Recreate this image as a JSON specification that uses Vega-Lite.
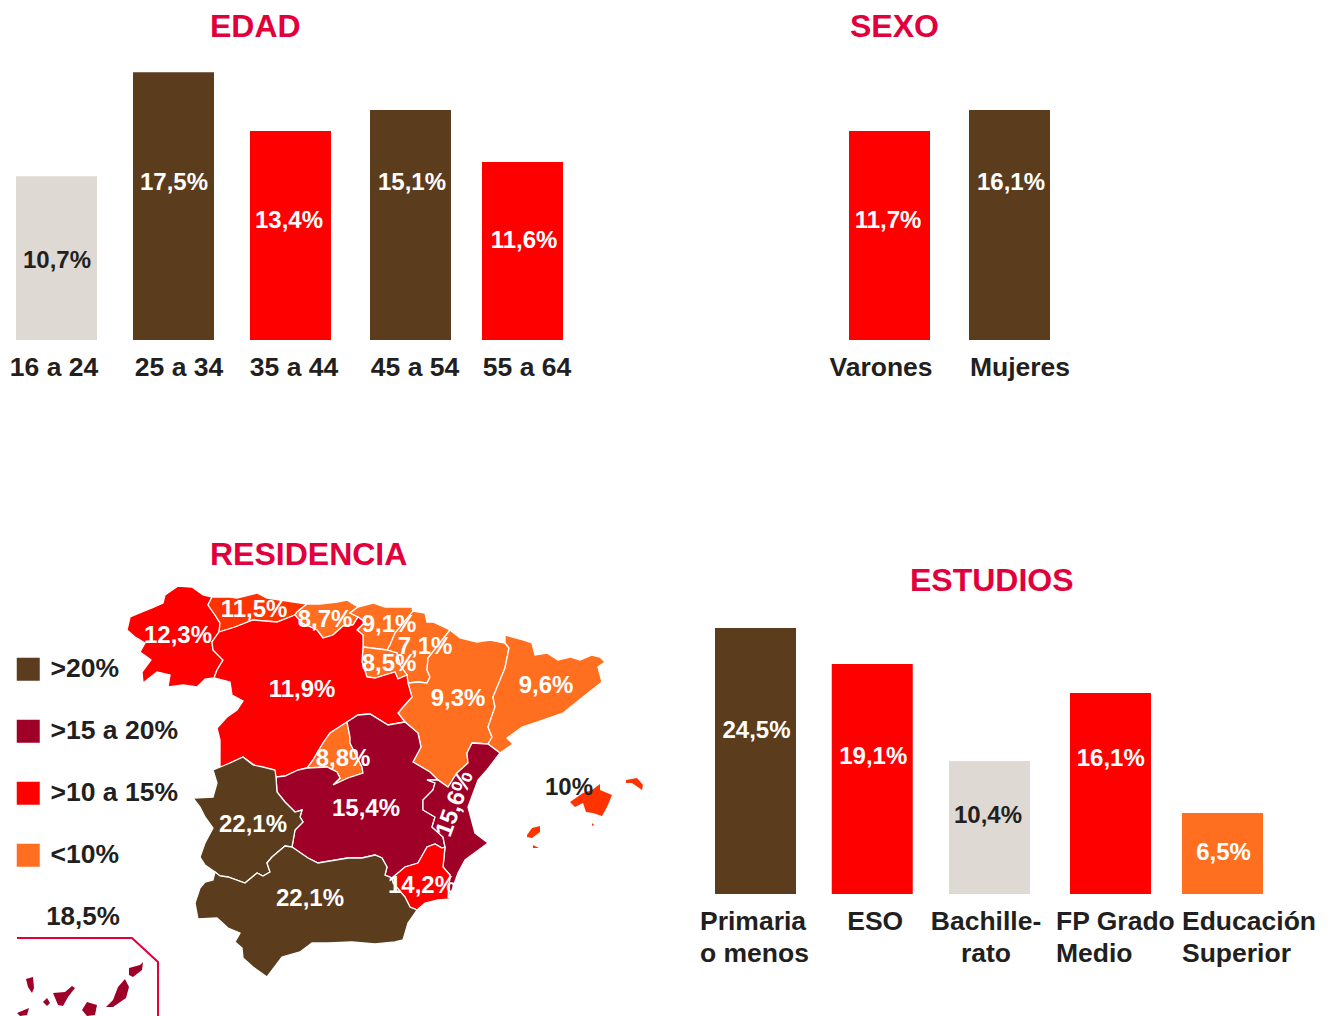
{
"$schema":"https://vega.github.io/schema/vega-lite/v6.json",
"background":"white","padding":0,"bounds":"flush","columns":2,"spacing":{"row":204,"column":0},
"resolve":{"scale":{"color":"independent"}},
"config":{"view":{"stroke":null},"font":"Liberation Sans","title":{"font":"Liberation Sans","fontWeight":"bold","fontSize":32,"color":"#E2003C","anchor":"start","frame":"group"},"text":{"font":"Liberation Sans","fontWeight":"bold","fontSize":24,"baseline":"middle"},
"axisX":{"title":null,"domain":false,"ticks":false,"labelFont":"Liberation Sans","labelFontWeight":"bold","labelFontSize":26.5,"labelColor":"#231F20","labelAngle":0,"labelPadding":14,"labelLimit":0,"labelOverlap":false,"labelBound":false,"labelFlush":false,"grid":false}},
"concat":[
{"width":640,"height":340,"title":{"text":"EDAD","dx":210,"offset":-44},
"data":{"values":[
{"edad":"16 a 24","longitud":10.7,"etiqueta":"10,7%","grupo":"claro"},
{"edad":"25 a 34","longitud":17.5,"etiqueta":"17,5%","grupo":"máximo"},
{"edad":"35 a 44","longitud":13.66,"etiqueta":"13,4%","grupo":"alto"},
{"edad":"45 a 54","longitud":15.03,"etiqueta":"15,1%","grupo":"máximo"},
{"edad":"55 a 64","longitud":11.63,"etiqueta":"11,6%","grupo":"alto"}]},
"encoding":{"x":{"field":"edad","type":"nominal","sort":null,"scale":{"range":[16,563],"paddingInner":0.3047,"paddingOuter":0},
"axis":{"labelOffset":{"condition":[{"test":"datum.value=='16 a 24'","value":-2.5},{"test":"datum.value=='25 a 34'","value":6},{"test":"datum.value=='45 a 54'","value":9}],"value":4.5}}},
"y":{"field":"longitud","type":"quantitative","axis":null,"scale":{"domain":[0,22.22],"range":[340,0]}}},
"layer":[
{"mark":{"type":"bar","xOffset":{"expr":"{'25 a 34':0.5,'35 a 44':1,'45 a 54':4.5}[datum.edad]||0"}},
"encoding":{"color":{"field":"grupo","type":"nominal","legend":null,"scale":{"domain":["máximo","alto","bajo","claro"],"range":["#5B3D1E","#FF0000","#FF6F1F","#DED9D3"]}}}},
{"mark":{"type":"text","dx":{"expr":"{'16 a 24':0.5,'25 a 34':1,'35 a 44':-0.5,'45 a 54':6,'55 a 64':1.5}[datum.edad]"},"dy":{"expr":"{'16 a 24':85,'25 a 34':111,'35 a 44':90,'45 a 54':73,'55 a 64':79}[datum.edad]"}},
"encoding":{"text":{"field":"etiqueta"},"color":{"condition":{"test":"datum.grupo=='claro'","value":"#231F20"},"value":"#FFFFFF"}}}
]},
{"width":695,"height":340,"title":{"text":"SEXO","dx":210,"offset":-44},
"data":{"values":[
{"sexo":"Varones","longitud":13.66,"etiqueta":"11,7%","grupo":"alto"},
{"sexo":"Mujeres","longitud":15.03,"etiqueta":"16,1%","grupo":"máximo"}]},
"encoding":{"x":{"field":"sexo","type":"nominal","sort":null,"scale":{"range":[209,410],"paddingInner":0.325,"paddingOuter":0},
"axis":{"labelOffset":{"condition":[{"test":"datum.value=='Varones'","value":-8.5}],"value":10.5}}},
"y":{"field":"longitud","type":"quantitative","axis":null,"scale":{"domain":[0,22.22],"range":[340,0]}}},
"layer":[
{"mark":{"type":"bar"},"encoding":{"color":{"field":"grupo","type":"nominal","legend":null,"scale":{"domain":["máximo","alto","bajo","claro"],"range":["#5B3D1E","#FF0000","#FF6F1F","#DED9D3"]}}}},
{"mark":{"type":"text","color":"#FFFFFF","dx":{"expr":"{'Varones':-1.5,'Mujeres':1.5}[datum.sexo]"},"dy":{"expr":"{'Varones':90,'Mujeres':73}[datum.sexo]"}},
"encoding":{"text":{"field":"etiqueta"}}}
]},
{"width":640,"height":350,"title":{"text":"RESIDENCIA","dx":210,"offset":-28},
"projection":{"type":"identity","scale":1,"translate":[0,-544]},
"layer":[
{"data":{"values":[
{"type":"Feature","nombre":"Galicia","clase":">10 a 15%","geometry":{"type":"Polygon","coordinates":[[[127,630],[130,617],[142,612],[152,608],[163,603],[165,595],[178,586],[192,587],[203,595],[212,597],[208,605],[215,615],[220,623],[219,632],[212,642],[213,650],[223,660],[217,670],[214,678],[205,679],[197,687],[183,685],[168,687],[170,675],[157,672],[143,683],[142,672],[151,660],[140,652],[145,643],[135,637],[127,630]]]}},
{"type":"Feature","nombre":"Asturias","clase":"tono claro","geometry":{"type":"Polygon","coordinates":[[[212,597],[230,597],[237,598],[257,593],[267,598],[307,604],[297,612],[295,615],[277,622],[253,620],[235,627],[219,632],[220,623],[215,615],[208,605],[212,597]]]}},
{"type":"Feature","nombre":"Cantabria","clase":"<10%","geometry":{"type":"Polygon","coordinates":[[[307,604],[320,604],[337,602],[347,600],[358,607],[350,613],[358,617],[353,625],[343,626],[333,635],[323,638],[317,630],[302,623],[295,615],[297,612],[307,604]]]}},
{"type":"Feature","nombre":"País Vasco","clase":"<10%","geometry":{"type":"Polygon","coordinates":[[[358,607],[373,603],[385,607],[412,607],[413,613],[395,633],[390,645],[387,650],[363,647],[363,635],[357,630],[365,622],[358,617],[350,613],[358,607]]]}},
{"type":"Feature","nombre":"Navarra","clase":"<10%","geometry":{"type":"Polygon","coordinates":[[[413,611],[425,613],[427,622],[433,622],[450,630],[428,658],[427,670],[430,677],[427,683],[418,682],[408,683],[407,675],[400,665],[397,653],[387,650],[390,645],[395,633],[413,611]]]}},
{"type":"Feature","nombre":"La Rioja","clase":"<10%","geometry":{"type":"Polygon","coordinates":[[[363,647],[387,650],[397,653],[400,665],[407,675],[398,679],[395,672],[385,675],[375,678],[367,677],[362,662],[363,647]]]}},
{"type":"Feature","nombre":"Aragón","clase":"<10%","geometry":{"type":"Polygon","coordinates":[[[450,630],[460,638],[477,642],[490,640],[505,643],[509,648],[505,668],[493,697],[495,707],[488,727],[492,737],[488,744],[472,743],[467,753],[468,763],[457,773],[448,787],[438,780],[430,772],[413,762],[421,747],[418,733],[405,722],[398,713],[403,707],[412,697],[408,683],[418,682],[427,683],[430,677],[427,670],[428,658],[450,630]]]}},
{"type":"Feature","nombre":"Cataluña","clase":"<10%","geometry":{"type":"Polygon","coordinates":[[[505,635],[520,639],[532,643],[535,655],[547,653],[558,660],[570,657],[580,660],[592,655],[600,657],[605,662],[598,667],[602,682],[583,697],[563,713],[537,722],[522,727],[507,738],[513,744],[500,753],[488,744],[492,737],[488,727],[495,707],[493,697],[505,668],[509,648],[505,643],[505,635]]]}},
{"type":"Feature","nombre":"Castilla y León","clase":">10 a 15%","geometry":{"type":"Polygon","coordinates":[[[219,632],[235,627],[253,620],[277,622],[295,615],[302,623],[317,630],[323,638],[333,635],[343,626],[353,625],[358,617],[365,622],[357,630],[363,635],[363,647],[362,662],[367,677],[375,678],[385,675],[395,672],[398,679],[407,675],[408,683],[412,697],[403,707],[398,713],[405,722],[388,725],[370,714],[358,715],[347,722],[330,733],[323,743],[313,760],[307,768],[298,770],[285,776],[276,777],[257,767],[243,757],[230,763],[220,768],[220,750],[220,740],[217,728],[227,717],[237,710],[243,701],[232,695],[230,682],[214,678],[217,670],[223,660],[213,650],[212,642],[219,632]]]}},
{"type":"Feature","nombre":"Madrid","clase":"<10%","geometry":{"type":"Polygon","coordinates":[[[347,722],[350,737],[350,743],[362,767],[363,773],[348,778],[333,785],[340,778],[337,772],[327,767],[307,768],[313,760],[323,743],[330,733],[347,722]]]}},
{"type":"Feature","nombre":"Castilla-La Mancha","clase":">15 a 20%","geometry":{"type":"Polygon","coordinates":[[[347,722],[358,715],[370,714],[388,725],[405,722],[418,733],[421,747],[413,762],[430,772],[438,780],[427,780],[435,783],[433,790],[423,800],[423,810],[435,817],[432,827],[443,837],[445,847],[442,848],[435,844],[427,847],[418,863],[405,867],[392,878],[385,875],[387,867],[382,858],[375,855],[362,858],[348,858],[318,863],[308,858],[292,847],[295,830],[303,822],[300,817],[302,810],[295,812],[285,802],[277,792],[276,777],[285,776],[298,770],[307,768],[327,767],[337,772],[340,778],[333,785],[348,778],[363,773],[362,767],[350,743],[350,737],[347,722]]]}},
{"type":"Feature","nombre":"C. Valenciana","clase":">15 a 20%","geometry":{"type":"Polygon","coordinates":[[[488,744],[500,753],[487,770],[478,780],[468,807],[475,833],[488,843],[465,860],[458,873],[452,890],[448,897],[450,875],[443,867],[445,847],[443,837],[432,827],[435,817],[423,810],[423,800],[433,790],[435,783],[427,780],[438,780],[448,787],[457,773],[468,763],[467,753],[472,743],[488,744]]]}},
{"type":"Feature","nombre":"Murcia","clase":">10 a 15%","geometry":{"type":"Polygon","coordinates":[[[392,878],[405,867],[418,863],[427,847],[435,844],[442,848],[445,847],[443,867],[450,875],[448,897],[452,899],[438,900],[425,903],[417,910],[410,907],[405,897],[393,883],[392,878]]]}},
{"type":"Feature","nombre":"Extremadura","clase":">20%","geometry":{"type":"Polygon","coordinates":[[[213,770],[230,763],[243,757],[253,765],[263,767],[275,770],[276,777],[277,792],[285,802],[295,812],[302,810],[300,817],[303,822],[295,830],[292,847],[285,846],[272,857],[267,863],[270,872],[263,876],[257,873],[245,883],[228,877],[220,876],[215,872],[205,865],[200,857],[205,843],[213,828],[205,817],[200,807],[193,798],[213,797],[217,783],[213,770]]]}},
{"type":"Feature","nombre":"Andalucía","clase":">20%","geometry":{"type":"Polygon","coordinates":[[[215,872],[220,876],[228,877],[245,883],[257,873],[263,876],[270,872],[267,863],[272,857],[285,846],[292,847],[308,858],[318,863],[348,858],[362,858],[375,855],[382,858],[387,867],[385,875],[392,878],[393,883],[405,897],[410,907],[417,910],[408,923],[403,940],[395,942],[375,944],[352,942],[328,943],[312,943],[300,952],[282,957],[267,977],[253,967],[243,958],[242,948],[235,942],[240,933],[228,928],[217,918],[198,919],[195,903],[200,888],[205,882],[213,880],[215,872]]]}},
{"type":"Feature","nombre":"Mallorca","isla":true,"clase":"tono claro","geometry":{"type":"Polygon","coordinates":[[[570,802],[583,793],[592,790],[600,784],[600,790],[612,795],[607,807],[602,816],[593,813],[586,812],[583,803],[575,807],[570,802]]]}},
{"type":"Feature","nombre":"Menorca","isla":true,"clase":"tono claro","geometry":{"type":"Polygon","coordinates":[[[626,780],[637,778],[643,785],[642,790],[632,783],[626,783],[626,780]]]}},
{"type":"Feature","nombre":"Ibiza","isla":true,"clase":"tono claro","geometry":{"type":"Polygon","coordinates":[[[527,835],[532,828],[540,826],[540,832],[532,838],[527,837],[527,835]]]}},
{"type":"Feature","nombre":"Formentera","isla":true,"clase":"tono claro","geometry":{"type":"Polygon","coordinates":[[[533,845],[539,848],[533,848],[533,845]]]}},
{"type":"Feature","nombre":"Cabrera","isla":true,"clase":"tono claro","geometry":{"type":"Polygon","coordinates":[[[592,823],[594,825],[592,826],[592,823]]]}},
{"type":"Feature","nombre":"Lanzarote","isla":true,"clase":">15 a 20%","geometry":{"type":"Polygon","coordinates":[[[129,968],[140,965],[143,962],[142,970],[133,977],[129,975],[129,968]]]}},
{"type":"Feature","nombre":"Fuerteventura","isla":true,"clase":">15 a 20%","geometry":{"type":"Polygon","coordinates":[[[125,979],[129,987],[126,998],[113,1007],[106,1007],[113,1000],[118,987],[125,979]]]}},
{"type":"Feature","nombre":"Gran Canaria","isla":true,"clase":">15 a 20%","geometry":{"type":"Polygon","coordinates":[[[87,1002],[97,1005],[95,1015],[87,1016],[82,1010],[87,1002]]]}},
{"type":"Feature","nombre":"Tenerife","isla":true,"clase":">15 a 20%","geometry":{"type":"Polygon","coordinates":[[[53,993],[65,992],[72,986],[75,988],[68,997],[63,1006],[58,1005],[53,993]]]}},
{"type":"Feature","nombre":"La Gomera","isla":true,"clase":">15 a 20%","geometry":{"type":"Polygon","coordinates":[[[43,1002],[47,998],[50,1003],[47,1006],[43,1002]]]}},
{"type":"Feature","nombre":"La Palma","isla":true,"clase":">15 a 20%","geometry":{"type":"Polygon","coordinates":[[[26,979],[33,977],[34,988],[32,993],[28,987],[26,979]]]}},
{"type":"Feature","nombre":"El Hierro","isla":true,"clase":">15 a 20%","geometry":{"type":"Polygon","coordinates":[[[17,1013],[29,1008],[27,1015],[20,1016],[17,1013]]]}}
]},
"mark":{"type":"geoshape","clip":false,"stroke":"#FFFFFF","strokeWidth":{"expr":"datum.isla?0:1.3"}},
"encoding":{"color":{"field":"clase","type":"nominal",
"scale":{"domain":[">20%",">15 a 20%",">10 a 15%","<10%","tono claro"],"range":["#5B3D1E","#9E0028","#FF0000","#FF6F1F","#FF3300"]},
"legend":{"values":[">20%",">15 a 20%",">10 a 15%","<10%"],"title":null,"orient":"none","legendX":15,"legendY":112,"padding":0,"symbolType":"square","symbolSize":529,"symbolStrokeWidth":0,"symbolOpacity":1,"labelFont":"Liberation Sans","labelFontWeight":"bold","labelFontSize":26.5,"labelColor":"#231F20","labelOffset":9,"rowPadding":35,"labelLimit":0}}}},
{"data":{"values":[{"type":"Feature","nombre":"Recuadro Canarias","geometry":{"type":"LineString","coordinates":[[17,938],[132,938],[158,962],[158,1016]]}}]},
"mark":{"type":"geoshape","clip":false,"filled":false,"stroke":"#E2003C","strokeWidth":2},"encoding":{}},
{"data":{"values":[
{"texto":"12,3%","lon":178,"lat":636},{"texto":"11,5%","lon":254,"lat":610},{"texto":"8,7%","lon":325,"lat":620},{"texto":"9,1%","lon":389,"lat":625},{"texto":"7,1%","lon":425,"lat":647},{"texto":"8,5%","lon":389,"lat":664},{"texto":"11,9%","lon":302,"lat":690},{"texto":"9,3%","lon":458,"lat":699},{"texto":"9,6%","lon":546,"lat":686},{"texto":"8,8%","lon":343,"lat":759},{"texto":"15,4%","lon":366,"lat":809},{"texto":"22,1%","lon":253,"lat":825},{"texto":"22,1%","lon":310,"lat":899},{"texto":"14,2%","lon":422,"lat":886},{"texto":"15,6%","lon":455,"lat":804},{"texto":"10%","lon":569,"lat":788},{"texto":"18,5%","lon":83,"lat":917}]},
"mark":{"type":"text","clip":false,"angle":{"expr":"datum.texto=='15,6%'?-70:0"},"fontSize":{"expr":"datum.texto=='18,5%'?26:24"}},
"encoding":{"longitude":{"field":"lon","type":"quantitative"},"latitude":{"field":"lat","type":"quantitative"},"text":{"field":"texto"},"color":{"condition":{"test":"datum.texto=='10%'||datum.texto=='18,5%'","value":"#231F20"},"value":"#FFFFFF"}}}
]},
{"width":695,"height":350,"title":{"text":"ESTUDIOS","dx":270,"offset":-54},
"data":{"values":[
{"estudios":"Primaria\no menos","longitud":24.5,"etiqueta":"24,5%","grupo":"máximo"},
{"estudios":"ESO","longitud":21.18,"etiqueta":"19,1%","grupo":"alto"},
{"estudios":"Bachille-\nrato","longitud":12.25,"etiqueta":"10,4%","grupo":"claro"},
{"estudios":"FP Grado\nMedio","longitud":18.5,"etiqueta":"16,1%","grupo":"alto"},
{"estudios":"Educación\nSuperior","longitud":7.46,"etiqueta":"6,5%","grupo":"bajo"}]},
"encoding":{"x":{"field":"estudios","type":"nominal","sort":null,"scale":{"range":[75,623],"paddingInner":0.3062,"paddingOuter":0},
"axis":{"labelExpr":"split(datum.label,'\\n')","labelLineHeight":32,
"labelAlign":{"condition":[{"test":"datum.value=='ESO'||indexof(datum.value,'Bachille')==0","value":"center"}],"value":"left"},
"labelOffset":{"condition":[{"test":"indexof(datum.value,'Primaria')==0","value":-55.5},{"test":"datum.value=='ESO'","value":3},{"test":"indexof(datum.value,'Bachille')==0","value":-3},{"test":"indexof(datum.value,'FP')==0","value":-49.75}],"value":-40.5}}},
"y":{"field":"longitud","type":"quantitative","axis":null,"scale":{"domain":[0,32.23],"range":[350,0]}}},
"layer":[
{"mark":{"type":"bar","xOffset":{"expr":"indexof(datum.estudios,'FP')==0?4.75:(indexof(datum.estudios,'Bachille')==0?0.5:0)"}},
"encoding":{"color":{"field":"grupo","type":"nominal","legend":null,"scale":{"domain":["máximo","alto","bajo","claro"],"range":["#5B3D1E","#FF0000","#FF6F1F","#DED9D3"]}}}},
{"mark":{"type":"text","dx":{"expr":"indexof(datum.estudios,'FP')==0?5:(indexof(datum.estudios,'Bachille')==0?-1:1)"},"dy":{"expr":"{'24,5%':103,'19,1%':93,'10,4%':55,'16,1%':66,'6,5%':40}[datum.etiqueta]"}},
"encoding":{"text":{"field":"etiqueta"},"color":{"condition":{"test":"datum.grupo=='claro'","value":"#231F20"},"value":"#FFFFFF"}}}
]}
]}
